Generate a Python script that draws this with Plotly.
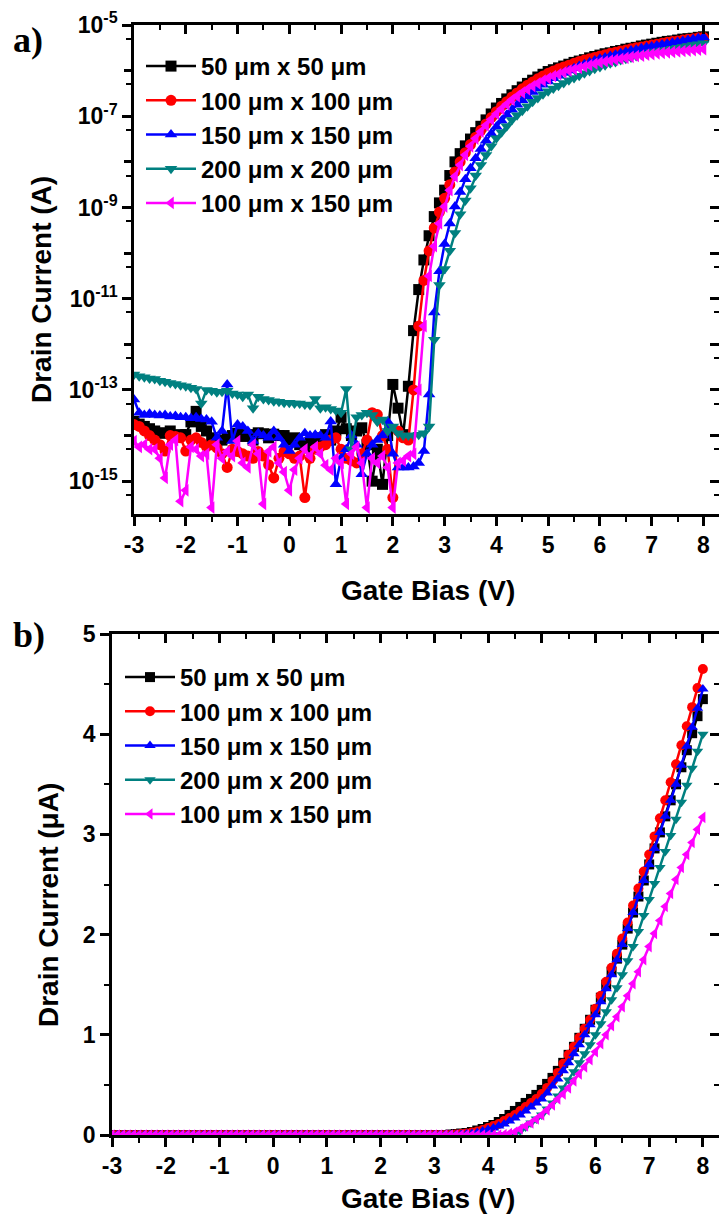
import numpy as np
import plotly.graph_objects as go

# ---------------- data ----------------
gate_bias = [
    -3.0, -2.9, -2.8, -2.7, -2.6, -2.5, -2.4, -2.3, -2.2, -2.1,
    -2.0, -1.9, -1.8, -1.7, -1.6, -1.5, -1.4, -1.3, -1.2, -1.1,
    -1.0, -0.9, -0.8, -0.7, -0.6, -0.5, -0.4, -0.3, -0.2, -0.1,
    0.0, 0.1, 0.2, 0.3, 0.4, 0.5, 0.6, 0.7, 0.8, 0.9,
    1.0, 1.1, 1.2, 1.3, 1.4, 1.5, 1.6, 1.7, 1.8, 1.9,
    2.0, 2.1, 2.2, 2.3, 2.4, 2.5, 2.6, 2.7, 2.8, 2.9,
    3.0, 3.1, 3.2, 3.3, 3.4, 3.5, 3.6, 3.7, 3.8, 3.9,
    4.0, 4.1, 4.2, 4.3, 4.4, 4.5, 4.6, 4.7, 4.8, 4.9,
    5.0, 5.1, 5.2, 5.3, 5.4, 5.5, 5.6, 5.7, 5.8, 5.9,
    6.0, 6.1, 6.2, 6.3, 6.4, 6.5, 6.6, 6.7, 6.8, 6.9,
    7.0, 7.1, 7.2, 7.3, 7.4, 7.5, 7.6, 7.7, 7.8, 7.9,
    8.0,
]

series_names = ["50 μm x 50 μm", "100 μm x 100 μm", "150 μm x 150 μm",
                "200 μm x 200 μm", "100 μm x 150 μm"]

# panel a): log10 of drain current (A)
log_id_50x50 = [
    -13.69, -13.75, -13.80, -13.85, -13.90, -13.94, -13.95, -13.90, -14.00, -13.98,
    -13.98, -13.70, -13.47, -13.80, -13.90, -14.05, -14.16, -14.10, -14.05, -14.00,
    -13.95, -14.02, -13.98, -14.10, -13.94, -13.96, -14.05, -13.97, -14.00, -14.00,
    -14.10, -14.05, -14.20, -14.27, -14.15, -14.12, -14.05, -13.98, -14.10, -13.90,
    -13.60, -13.85, -14.00, -13.90, -13.83, -14.20, -15.00, -14.30, -15.07, -14.00,
    -12.88, -13.40, -13.98, -12.92, -11.70, -10.80, -10.15, -9.62, -9.20, -8.90,
    -8.62, -8.30, -8.00, -7.82, -7.65, -7.50, -7.36, -7.22, -7.08, -6.95,
    -6.82, -6.72, -6.62, -6.53, -6.44, -6.36, -6.28, -6.21, -6.14, -6.08,
    -6.02, -5.98, -5.94, -5.90, -5.86, -5.82, -5.79, -5.76, -5.72, -5.69,
    -5.66, -5.63, -5.61, -5.58, -5.56, -5.53, -5.51, -5.49, -5.46, -5.44,
    -5.42, -5.40, -5.38, -5.36, -5.35, -5.33, -5.31, -5.30, -5.29, -5.27,
    -5.26,
]
log_id_100x100 = [
    -13.76, -13.80, -13.90, -14.00, -14.10, -14.20, -14.34, -14.00, -14.02, -14.05,
    -14.34, -14.10, -14.05, -14.15, -14.25, -14.20, -14.27, -14.40, -14.70, -14.30,
    -14.35, -14.40, -14.45, -14.50, -14.35, -14.45, -14.64, -14.93, -14.50, -14.35,
    -14.40, -14.50, -14.45, -15.36, -14.50, -14.30, -14.25, -14.20, -14.10, -14.05,
    -14.30, -14.50, -14.55, -14.60, -14.40, -14.10, -13.50, -13.54, -14.00, -14.30,
    -15.36, -13.90, -14.05, -14.10, -13.00, -11.60, -10.60, -9.95, -9.45, -9.10,
    -8.80, -8.50, -8.22, -8.00, -7.80, -7.62, -7.46, -7.31, -7.17, -7.03,
    -6.90, -6.78, -6.68, -6.58, -6.49, -6.40, -6.32, -6.25, -6.18, -6.12,
    -6.06, -6.01, -5.96, -5.92, -5.88, -5.84, -5.80, -5.77, -5.74, -5.71,
    -5.68, -5.65, -5.62, -5.60, -5.57, -5.55, -5.52, -5.50, -5.48, -5.46,
    -5.44, -5.42, -5.40, -5.38, -5.36, -5.35, -5.33, -5.31, -5.30, -5.28,
    -5.27,
]
log_id_150x150 = [
    -13.21, -13.50, -13.55, -13.52, -13.55, -13.56, -13.55, -13.58, -13.57, -13.60,
    -13.60, -13.62, -13.60, -13.64, -13.65, -13.70, -14.05, -13.90, -12.88, -14.12,
    -13.76, -13.80, -13.90, -14.12, -13.95, -14.00, -14.05, -13.90, -14.05, -14.20,
    -14.34, -14.20, -14.05, -13.95, -14.00, -13.98, -14.00, -14.05, -13.69, -15.07,
    -14.50, -14.30, -14.00, -14.20, -14.85, -14.40, -14.20, -14.10, -14.00, -13.69,
    -14.40, -14.70, -14.70, -14.70, -14.68, -14.60, -14.34, -13.10, -11.30, -10.40,
    -9.80, -9.35, -8.98, -8.66, -8.38, -8.14, -7.92, -7.72, -7.54, -7.38,
    -7.23, -7.10, -6.97, -6.86, -6.75, -6.65, -6.56, -6.47, -6.39, -6.31,
    -6.24, -6.17, -6.11, -6.05, -6.00, -5.95, -5.90, -5.86, -5.82, -5.78,
    -5.74, -5.71, -5.68, -5.65, -5.62, -5.59, -5.56, -5.54, -5.51, -5.49,
    -5.47, -5.45, -5.43, -5.41, -5.39, -5.37, -5.35, -5.33, -5.31, -5.29,
    -5.27,
]
log_id_200x200 = [
    -12.66, -12.70, -12.72, -12.75, -12.76, -12.80, -12.82, -12.85, -12.87, -12.90,
    -12.92, -12.95, -12.98, -13.30, -13.00, -13.02, -13.05, -13.04, -13.02, -13.08,
    -13.10, -13.15, -13.10, -13.40, -13.15, -13.20, -13.22, -13.25, -13.26, -13.28,
    -13.28, -13.30, -13.30, -13.32, -13.33, -13.20, -13.40, -13.38, -13.42, -13.45,
    -13.50, -12.98, -14.30, -13.60, -13.55, -13.50, -13.55, -13.70, -13.65, -13.90,
    -13.80, -13.95, -14.00, -14.00, -14.00, -13.98, -13.95, -13.80, -11.90, -10.70,
    -10.35, -9.95, -9.56, -9.15, -8.85, -8.58, -8.30, -8.07, -7.85, -7.66,
    -7.48, -7.35, -7.22, -7.08, -6.98, -6.88, -6.78, -6.68, -6.60, -6.52,
    -6.45, -6.39, -6.33, -6.27, -6.21, -6.16, -6.11, -6.06, -6.01, -5.96,
    -5.92, -5.88, -5.84, -5.81, -5.77, -5.74, -5.71, -5.68, -5.65, -5.63,
    -5.60, -5.58, -5.56, -5.54, -5.52, -5.50, -5.48, -5.46, -5.44, -5.42,
    -5.40,
]
log_id_100x150 = [
    -14.12, -14.25, -14.20, -14.30, -14.30, -14.50, -14.93, -14.20, -14.10, -15.44,
    -15.20, -14.25, -14.30, -14.45, -14.40, -15.58, -14.20, -14.50, -14.35, -14.45,
    -14.12, -14.60, -14.70, -14.20, -14.40, -15.50, -14.35, -14.25, -14.60, -14.80,
    -15.20, -14.75, -14.50, -14.30, -14.45, -14.25, -14.40, -14.65, -14.75, -14.50,
    -14.60, -15.50, -14.40, -14.25, -14.60, -15.58, -14.50, -14.60, -14.45, -14.70,
    -15.58, -14.60, -14.55, -14.45, -14.40, -13.00, -11.60, -10.50, -9.85, -9.35,
    -8.98, -8.62, -8.32, -8.07, -7.85, -7.66, -7.49, -7.34, -7.20, -7.07,
    -6.95, -6.84, -6.74, -6.64, -6.56, -6.48, -6.41, -6.34, -6.28, -6.22,
    -6.17, -6.12, -6.08, -6.04, -6.00, -5.97, -5.94, -5.91, -5.88, -5.85,
    -5.82, -5.80, -5.78, -5.76, -5.74, -5.72, -5.70, -5.68, -5.67, -5.65,
    -5.64, -5.62, -5.61, -5.60, -5.59, -5.58, -5.57, -5.56, -5.55, -5.54,
    -5.53,
]

# panel b): drain current (uA), linear scale
id_ua_50x50 = [0.0] * 63 + [
    0.005, 0.01, 0.015, 0.02, 0.03, 0.045, 0.06,
    0.08, 0.10, 0.13, 0.16, 0.20, 0.24, 0.28, 0.32, 0.36, 0.40,
    0.45, 0.51, 0.57, 0.64, 0.72, 0.80, 0.88, 0.97, 1.06, 1.15,
    1.25, 1.37, 1.50, 1.63, 1.76, 1.90, 2.06, 2.22, 2.38, 2.54,
    2.70, 2.86, 3.02, 3.18, 3.34, 3.50, 3.67, 3.84, 4.01, 4.18,
    4.35]
id_ua_100x100 = [0.0] * 64 + [
    0.005, 0.01, 0.015, 0.025, 0.035, 0.05,
    0.07, 0.09, 0.11, 0.14, 0.17, 0.20, 0.24, 0.28, 0.32, 0.36,
    0.41, 0.47, 0.54, 0.62, 0.71, 0.80, 0.88, 0.97, 1.06, 1.15,
    1.26, 1.39, 1.53, 1.67, 1.81, 1.96, 2.12, 2.29, 2.46, 2.63,
    2.80, 2.98, 3.16, 3.34, 3.52, 3.70, 3.89, 4.08, 4.27, 4.46,
    4.65]
id_ua_150x150 = [0.0] * 65 + [
    0.005, 0.01, 0.015, 0.025, 0.04,
    0.055, 0.07, 0.09, 0.11, 0.14, 0.17, 0.20, 0.24, 0.28, 0.32,
    0.36, 0.42, 0.49, 0.56, 0.64, 0.72, 0.81, 0.90, 1.00, 1.10,
    1.20, 1.33, 1.46, 1.60, 1.75, 1.90, 2.06, 2.22, 2.38, 2.54,
    2.70, 2.86, 3.02, 3.18, 3.34, 3.50, 3.69, 3.88, 4.07, 4.26,
    4.45]
id_ua_200x200 = [0.0] * 75 + [
    0.01, 0.04, 0.08, 0.12, 0.16,
    0.20, 0.26, 0.32, 0.39, 0.47, 0.55, 0.63, 0.72, 0.81, 0.90,
    1.00, 1.11, 1.23, 1.35, 1.47, 1.60, 1.74, 1.88, 2.03, 2.19,
    2.35, 2.51, 2.67, 2.83, 2.99, 3.15, 3.32, 3.49, 3.66, 3.83,
    4.00]
id_ua_100x150 = [0.0] * 73 + [
    0.005, 0.015, 0.03, 0.06, 0.09, 0.12, 0.16,
    0.20, 0.25, 0.30, 0.36, 0.41, 0.47, 0.54, 0.61, 0.68, 0.75,
    0.83, 0.91, 1.00, 1.09, 1.18, 1.28, 1.39, 1.51, 1.63, 1.75,
    1.88, 2.01, 2.14, 2.28, 2.41, 2.55, 2.67, 2.80, 2.92, 3.05,
    3.17]

log_series = [log_id_50x50, log_id_100x100, log_id_150x150, log_id_200x200, log_id_100x150]
lin_series = [id_ua_50x50, id_ua_100x100, id_ua_150x150, id_ua_200x200, id_ua_100x150]
for s in log_series + lin_series:
    assert len(s) == len(gate_bias), len(s)

x_ticks = [-3, -2, -1, 0, 1, 2, 3, 4, 5, 6, 7, 8]
x_tick_labels = ["-3", "-2", "-1", "0", "1", "2", "3", "4", "5", "6", "7", "8"]
log_label_exp = [-5, -7, -9, -11, -13, -15]
log_label_text = ["10<sup>-5</sup>", "10<sup>-7</sup>", "10<sup>-9</sup>",
                  "10<sup>-11</sup>", "10<sup>-13</sup>", "10<sup>-15</sup>"]
log_unlabeled_exp = [-6, -8, -10, -12, -14]
log_minor_exp = [-6, -7, -8, -9, -10, -11, -12, -13, -14, -15, -16]  # 5 x 10^n
lin_ticks = [0, 1, 2, 3, 4, 5]

# ---------------- styles ----------------
colors = ["#000000", "#FF0000", "#0000FF", "#008080", "#FF00FF"]
symbols = ["square", "circle", "triangle-up", "triangle-down", "triangle-left"]
FONT = "Liberation Sans, Arial, sans-serif"
W, H = 719, 1217
X_RANGE = [-3, 8.3]
LOG_RANGE = [-15.72, -5]
LIN_RANGE = [0, 5]

def px_x(p):
    return p / W

def px_y(p):
    return 1 - p / H

fig = go.Figure()

for i in range(5):
    fig.add_trace(go.Scatter(
        x=gate_bias, y=[10 ** v for v in log_series[i]], name=series_names[i],
        mode="lines+markers", xaxis="x", yaxis="y", legend="legend",
        line=dict(color=colors[i], width=2.5),
        marker=dict(symbol=symbols[i], size=11, color=colors[i]),
    ))
for i in range(5):
    fig.add_trace(go.Scatter(
        x=gate_bias, y=lin_series[i], name=series_names[i],
        mode="lines+markers", xaxis="x2", yaxis="y2", legend="legend2",
        line=dict(color=colors[i], width=2.5),
        marker=dict(symbol=symbols[i], size=10, color=colors[i]),
    ))
# dummy traces to activate mirrored / auxiliary tick axes
for xa, ya in [("x3", "y"), ("x", "y3"), ("x", "y5"), ("x4", "y2"), ("x2", "y4")]:
    fig.add_trace(go.Scatter(x=[None], y=[None], xaxis=xa, yaxis=ya,
                             showlegend=False, hoverinfo="skip"))

tickfont = dict(family=FONT, size=23, color="black", weight="bold")
LW = 2.5

x_base = dict(range=X_RANGE, tickmode="array", tickvals=x_ticks,
              showgrid=False, zeroline=False, automargin=False,
              showline=True, linecolor="black", linewidth=LW,
              ticklen=9, tickwidth=LW, tickcolor="black")
x_minor = dict(dtick=0.5, tick0=-3, ticklen=5, tickwidth=2, tickcolor="black")

# panel a
dom_ax = [px_x(134), 1.0]
dom_ay = [px_y(514), px_y(25)]
fig.update_layout(
    xaxis=dict(domain=dom_ax, anchor="y", ticks="outside", ticktext=x_tick_labels,
               tickfont=tickfont, minor=dict(ticks="outside", **x_minor), **x_base),
    xaxis3=dict(domain=dom_ax, overlaying="x", anchor="y", side="top",
                ticks="inside", showticklabels=False,
                minor=dict(ticks="inside", **x_minor), **x_base),
)

log_common = dict(type="log", range=LOG_RANGE, showgrid=False, zeroline=False,
                  automargin=False, ticklen=9, tickwidth=LW, tickcolor="black")
minor_log = dict(tickmode="array", tickvals=[5 * 10.0 ** e for e in log_minor_exp],
                 ticklen=5, tickwidth=2, tickcolor="black")
fig.update_layout(
    yaxis=dict(domain=dom_ay, anchor="x", ticks="outside", showline=True,
               linecolor="black", linewidth=LW, tickmode="array",
               tickvals=[10.0 ** e for e in log_label_exp], ticktext=log_label_text,
               tickfont=tickfont, minor=dict(ticks="outside", **minor_log), **log_common),
    # unlabelled decade ticks on the left side
    yaxis5=dict(domain=dom_ay, overlaying="y", anchor="x", side="left", ticks="outside",
                showline=False, showticklabels=False, tickmode="array",
                tickvals=[10.0 ** e for e in log_unlabeled_exp], **log_common),
    # mirrored right side (inward ticks)
    yaxis3=dict(domain=dom_ay, overlaying="y", anchor="x", side="right", ticks="inside",
                showline=False, showticklabels=False, tickmode="array",
                tickvals=[10.0 ** e for e in log_label_exp + log_unlabeled_exp],
                minor=dict(ticks="inside", **minor_log), **log_common),
)

# panel b
dom_bx = [px_x(112), 1.0]
dom_by = [px_y(1135), px_y(634)]
fig.update_layout(
    xaxis2=dict(domain=dom_bx, anchor="y2", ticks="outside", ticktext=x_tick_labels,
                tickfont=tickfont, minor=dict(ticks="outside", **x_minor), **x_base),
    xaxis4=dict(domain=dom_bx, overlaying="x2", anchor="y2", side="top",
                ticks="inside", showticklabels=False,
                minor=dict(ticks="inside", **x_minor), **x_base),
)

lin_base = dict(range=LIN_RANGE, tickmode="array", tickvals=lin_ticks, showgrid=False,
                zeroline=False, automargin=False,
                ticklen=9, tickwidth=LW, tickcolor="black")
lin_minor = dict(dtick=0.5, tick0=0, ticklen=5, tickwidth=2, tickcolor="black")
fig.update_layout(
    yaxis2=dict(domain=dom_by, anchor="x2", ticks="outside", showline=True,
                linecolor="black", linewidth=LW, tickfont=tickfont,
                minor=dict(ticks="outside", **lin_minor), **lin_base),
    yaxis4=dict(domain=dom_by, overlaying="y2", anchor="x2", side="right", ticks="inside",
                showline=False, showticklabels=False,
                minor=dict(ticks="inside", **lin_minor), **lin_base),
)

legend_font = dict(family=FONT, size=24, color="black", weight="bold")
fig.update_layout(
    legend=dict(x=px_x(141), y=px_y(44), xanchor="left", yanchor="top",
                bgcolor="rgba(0,0,0,0)", font=legend_font, itemwidth=50,
                tracegroupgap=0),
    legend2=dict(x=px_x(120), y=px_y(655), xanchor="left", yanchor="top",
                 bgcolor="rgba(0,0,0,0)", font=legend_font, itemwidth=50,
                 tracegroupgap=0),
)

title_font = dict(family=FONT, size=28, color="black", weight="bold")
ann = [
    dict(text="Drain Current (A)", x=px_x(41), y=px_y(290), textangle=-90),
    dict(text="Gate Bias (V)", x=px_x(428), y=px_y(590), textangle=0),
    dict(text="Drain Current (μA)", x=px_x(48), y=px_y(905), textangle=-90),
    dict(text="Gate Bias (V)", x=px_x(428), y=px_y(1198), textangle=0),
]
for a in ann:
    fig.add_annotation(xref="paper", yref="paper", xanchor="center", yanchor="middle",
                       showarrow=False, font=title_font, **a)
panel_font = dict(family="Liberation Serif, Times New Roman, serif", size=36,
                  color="black", weight="bold")
fig.add_annotation(text="a)", xref="paper", yref="paper", x=px_x(11), y=px_y(40),
                   xanchor="left", yanchor="middle", showarrow=False, font=panel_font)
fig.add_annotation(text="b)", xref="paper", yref="paper", x=px_x(11), y=px_y(635),
                   xanchor="left", yanchor="middle", showarrow=False, font=panel_font)

fig.update_layout(width=W, height=H, margin=dict(l=0, r=0, t=0, b=0, autoexpand=False),
                  paper_bgcolor="white", plot_bgcolor="white", showlegend=True)

fig.write_html("out.html")
